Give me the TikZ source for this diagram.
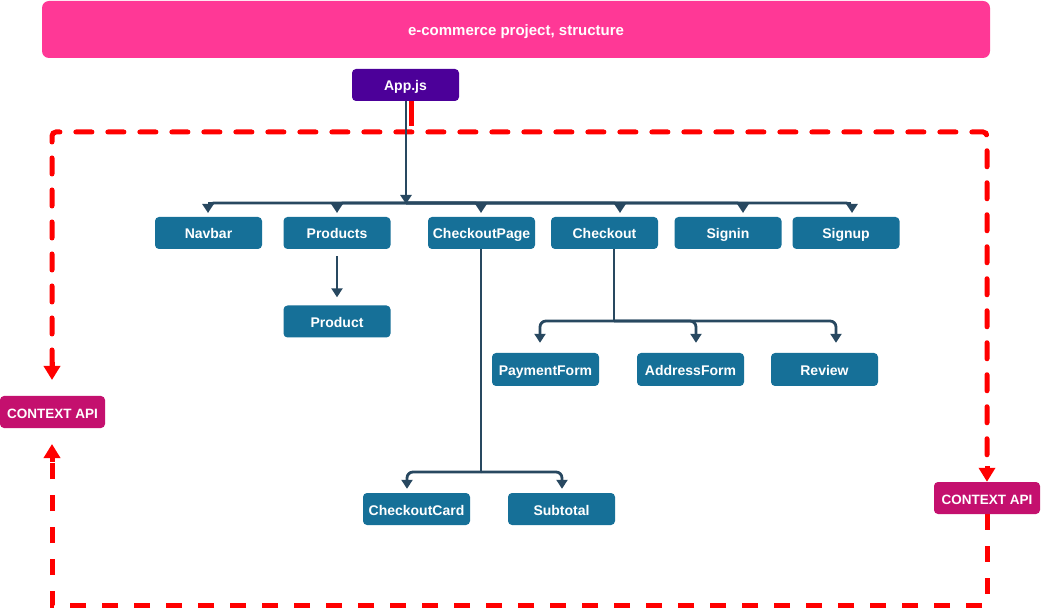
\documentclass[tikz,border=0pt]{standalone}
\usepackage{fontspec}
\setmainfont{Liberation Sans}
\usetikzlibrary{arrows.meta}
\definecolor{boxblue}{RGB}{22,112,152}
\definecolor{conncol}{RGB}{40,72,96}
\definecolor{titlepink}{RGB}{255,56,150}
\definecolor{apppurple}{RGB}{76,0,153}
\definecolor{ctxmag}{RGB}{196,16,110}
\definecolor{dashred}{RGB}{255,0,0}
\tikzset{
  bx/.style={rectangle, rounded corners=4pt, fill=boxblue, text=white,
    font=\fontsize{14}{16}\selectfont\bfseries, minimum width=107pt, minimum height=32pt,
    inner sep=0pt, text height=13pt, text depth=1pt},
  appbox/.style={bx, fill=apppurple},
  ctxbox/.style={bx, fill=ctxmag, minimum width=105pt, font=\fontsize{13.5}{16}\selectfont\bfseries},
  titlebox/.style={rectangle, rounded corners=7pt, fill=titlepink, text=white,
    font=\fontsize{15}{17}\selectfont\bfseries, minimum width=948pt, minimum height=57pt,
    inner sep=0pt, text height=14pt, text depth=2pt},
  conn/.style={draw=conncol, line width=2.8pt, rounded corners=6pt,
    -{Triangle[width=11pt,length=9pt]}},
  bus/.style={draw=conncol, line width=2.8pt, rounded corners=6pt},
  reddash/.style={draw=dashred, line width=5pt, dash pattern=on 16pt off 16pt},
  redarrow/.style={draw=dashred, line width=5pt, -{Triangle[width=16pt,length=14pt]}},
}
\begin{document}
\begin{tikzpicture}[x=1pt,y=-1pt]
\useasboundingbox (0,0) rectangle (1042,612);
\fill[white] (0,0) rectangle (1042,612);

% red dashed frame
\draw[reddash, line cap=round, rounded corners=4pt] (52,366) -- (52,132) -- (987,132) -- (987,470);
\draw[reddash] (987,514) -- (987,605) -- (52,605) -- (52,460);
\draw[draw=dashred, line width=5pt] (411,100) -- (411,126);

% nodes
\node[titlebox] (title) at (516,29.5) {e-commerce project, structure};
\node[appbox] (app) at (405.5,85) {App.js};
\node[ctxbox] (ctxl) at (52.5,412) {CONTEXT API};
\node[ctxbox, minimum width=106pt] (ctxr) at (987,498) {CONTEXT API};

\draw[redarrow] (52,362) -- (52,380);
\draw[redarrow] (52,462) -- (52,444);
\draw[redarrow] (987,466) -- (ctxr.north);

\node[bx] (navbar) at (208.5,233) {Navbar};
\node[bx] (products) at (337,233) {Products};
\node[bx] (checkoutpage) at (481.5,233) {CheckoutPage};
\node[bx] (checkout) at (604.5,233) {Checkout};
\node[bx] (signin) at (728,233) {Signin};
\node[bx] (signup) at (846,233) {Signup};
\node[bx] (product) at (337,321.5) {Product};
\node[bx, minimum height=33pt] (payment) at (545.5,369.5) {PaymentForm};
\node[bx, minimum height=33pt] (address) at (690.5,369.5) {AddressForm};
\node[bx, minimum height=33pt] (review) at (824.5,369.5) {Review};
\node[bx] (ccard) at (416.5,509) {CheckoutCard};
\node[bx] (subtotal) at (561.5,509) {Subtotal};

% App.js to bus
\coordinate (busc) at (406,203);
\draw[conn, shorten >=-1pt] (app.south -| busc) -- (busc);
% bus
\draw[bus] (busc) -- (208,203);
\draw[bus] (busc) -- (851,203);
\draw[conn] (busc) -| (208,213);
\draw[conn] (busc) -| (337,213);
\draw[conn] (busc) -| (481,213);
\draw[conn] (busc) -| (620,213);
\draw[conn] (busc) -| (743,213);
\draw[conn] (busc) -| (852,213);

% Products -> Product
\draw[conn] ([yshift=-7pt]products.south) -- ([yshift=8pt]product.north);

% Checkout -> forms
\coordinate (ckb) at (614,321);
\draw[bus] (checkout.south -| ckb) -- (ckb);
\draw[conn] (ckb) -| ([yshift=10pt]payment.north -| 540,0);
\draw[conn] (ckb) -| ([yshift=10pt]address.north -| 696,0);
\draw[conn] (ckb) -| ([yshift=10pt]review.north -| 836,0);

% CheckoutPage -> cards
\coordinate (cpb) at (481,472);
\draw[bus] (checkoutpage.south -| cpb) -- (cpb);
\draw[conn] (cpb) -| ([yshift=4pt]ccard.north -| 407,0);
\draw[conn] (cpb) -| ([yshift=4pt]subtotal.north -| 562,0);
\end{tikzpicture}
\end{document}
